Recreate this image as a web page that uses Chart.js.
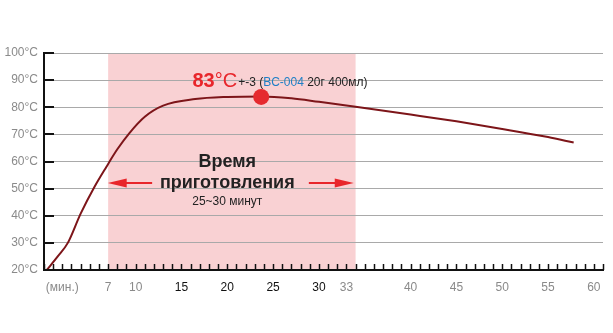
<!DOCTYPE html>
<html>
<head>
<meta charset="utf-8">
<script src="https://cdn.jsdelivr.net/npm/chart.js@4/dist/chart.umd.min.js"></script>
<style>
html,body{margin:0;padding:0;background:#fff;}
#wrap{width:613px;height:333px;position:relative;}
</style>
</head>
<body>
<div id="wrap"><canvas id="c"></canvas></div>
<script>
// ---- data ----
const minutes = [0.3, 1.5, 2.6, 4.0, 5.5, 6.8, 8.0, 9.3, 11.0, 13.0, 16.5, 20.0, 23.8, 27.0, 30.0, 34.0, 40.0, 45.0, 50.0, 55.0, 57.8];
const temps   = [20, 25, 30, 40.8, 50.6, 58, 64.5, 70.4, 76.5, 80.6, 83, 83.8, 84, 83.3, 82, 80.2, 77.3, 74.8, 72, 69, 67];
const peakPoint = [{x: 23.7, y: 83.8}];
const xTickValues = [2, 7, 10, 15, 20, 25, 30, 33, 40, 45, 50, 55, 60];
const xTickLabels = ['(мин.)', '7', '10', '15', '20', '25', '30', '33', '40', '45', '50', '55', '60'];
const xTickDark = [15, 20, 25, 30];
const yTickValues = [20, 30, 40, 50, 60, 70, 80, 90, 100];
const cookRange = [7, 34.0];
const peakLabel = ['83', '°C'];
const peakNote = ['+-3 (', 'BC-004', ' 20г 400мл)'];
const cookTitle = ['Время', 'приготовления'];
const cookSub = '25~30 минут';

const FONT = '"Liberation Sans", Arial, Helvetica, sans-serif';

const decor = {
  id: 'decor',
  beforeDraw(chart) {
    const {ctx, chartArea: a, scales: {x, y}} = chart;
    ctx.save();
    ctx.fillStyle = '#f9d1d3';
    const x0 = x.getPixelForValue(cookRange[0]), x1 = x.getPixelForValue(cookRange[1]);
    ctx.fillRect(x0, a.top, x1 - x0, a.bottom - a.top);
    ctx.restore();
  },
  afterDatasetsDraw(chart) {
    const {ctx, chartArea: a, scales: {x, y}} = chart;
    ctx.save();
    // minor x ticks every minute
    ctx.strokeStyle = '#111';
    ctx.lineWidth = 1.5;
    for (let m = 0; m <= 61; m++) {
      const px = Math.round(x.getPixelForValue(m)) + 0.5;
      ctx.beginPath();
      ctx.moveTo(px, a.bottom);
      ctx.lineTo(px, a.bottom - 6);
      ctx.stroke();
    }
    // major y ticks
    ctx.lineWidth = 2;
    yTickValues.forEach(v => {
      const py = Math.round(y.getPixelForValue(v));
      ctx.beginPath();
      ctx.moveTo(a.left, py);
      ctx.lineTo(a.left + 10, py);
      ctx.stroke();
    });

    // peak annotation
    let tx = x.getPixelForValue(16.2);
    const ty = y.getPixelForValue(87.6);
    ctx.textBaseline = 'alphabetic';
    ctx.textAlign = 'left';
    ctx.fillStyle = '#e8262b';
    ctx.font = 'bold 20px ' + FONT;
    ctx.fillText(peakLabel[0], tx, ty);
    tx += ctx.measureText(peakLabel[0]).width;
    ctx.font = '20px ' + FONT;
    ctx.fillText(peakLabel[1], tx, ty);
    tx += ctx.measureText(peakLabel[1]).width + 1;
    ctx.font = '12px ' + FONT;
    const noteColors = ['#222', '#1f7fc6', '#222'];
    peakNote.forEach((t, i) => {
      ctx.fillStyle = noteColors[i];
      ctx.fillText(t, tx, ty - 1);
      tx += ctx.measureText(t).width;
    });

    // cooking time text
    const cx = x.getPixelForValue(20.0);
    ctx.textAlign = 'center';
    ctx.fillStyle = '#222';
    ctx.font = 'bold 18px ' + FONT;
    ctx.fillText(cookTitle[0], cx, y.getPixelForValue(58));
    ctx.fillText(cookTitle[1], cx, y.getPixelForValue(50.3));
    ctx.font = '12px ' + FONT;
    ctx.fillText(cookSub, cx, y.getPixelForValue(44));

    // arrows
    const ay = Math.round(y.getPixelForValue(51.9));
    const drawArrow = (from, to) => {
      const dir = Math.sign(to - from);
      ctx.strokeStyle = '#e8262b';
      ctx.fillStyle = '#e8262b';
      ctx.lineWidth = 2;
      ctx.beginPath();
      ctx.moveTo(from, ay);
      ctx.lineTo(to - dir * 12, ay);
      ctx.stroke();
      ctx.beginPath();
      ctx.moveTo(to, ay);
      ctx.lineTo(to - dir * 19, ay - 4.5);
      ctx.lineTo(to - dir * 19, ay + 4.5);
      ctx.closePath();
      ctx.fill();
    };
    drawArrow(x.getPixelForValue(11.8), x.getPixelForValue(6.95));
    drawArrow(x.getPixelForValue(28.9), x.getPixelForValue(33.8));
    ctx.restore();
  }
};

new Chart(document.getElementById('c'), {
  type: 'line',
  data: {
    datasets: [
      {
        data: minutes.map((m, i) => ({x: m, y: temps[i]})),
        borderColor: '#7d1519',
        borderWidth: 2,
        pointRadius: 0,
        cubicInterpolationMode: 'monotone',
        fill: false,
        order: 2
      },
      {
        type: 'scatter',
        data: peakPoint,
        pointRadius: 8,
        pointHoverRadius: 8,
        backgroundColor: '#e52a2f',
        borderColor: '#e52a2f',
        borderWidth: 0,
        order: 1
      }
    ]
  },
  options: {
    responsive: true,
    maintainAspectRatio: false,
    animation: false,
    events: [],
    layout: {padding: {top: 53, right: 10, left: 0, bottom: 0}},
    plugins: {legend: {display: false}, tooltip: {enabled: false}},
    scales: {
      x: {
        type: 'linear',
        min: 0,
        max: 61,
        afterFit(s) { s.height = 63; },
        afterBuildTicks(s) { s.ticks = xTickValues.map(v => ({value: v})); },
        grid: {display: false, drawTicks: false},
        border: {display: true, color: '#111', width: 2},
        ticks: {
          autoSkip: false,
          maxRotation: 0,
          padding: 10,
          font: {family: FONT, size: 12},
          color: (c) => xTickDark.includes(c.tick && c.tick.value) ? '#111' : '#8a8a8a',
          callback: (v) => xTickLabels[xTickValues.indexOf(v)]
        }
      },
      y: {
        min: 20,
        max: 100,
        afterFit(s) { s.width = 44; },
        afterBuildTicks(s) { s.ticks = yTickValues.map(v => ({value: v})); },
        grid: {color: '#a9a9a9', lineWidth: 1, drawTicks: false},
        border: {display: true, color: '#111', width: 2},
        ticks: {
          padding: 6,
          font: {family: FONT, size: 12},
          color: '#8a8a8a',
          callback: (v) => v + '°C'
        }
      }
    }
  },
  plugins: [decor]
});
</script>
</body>
</html>
